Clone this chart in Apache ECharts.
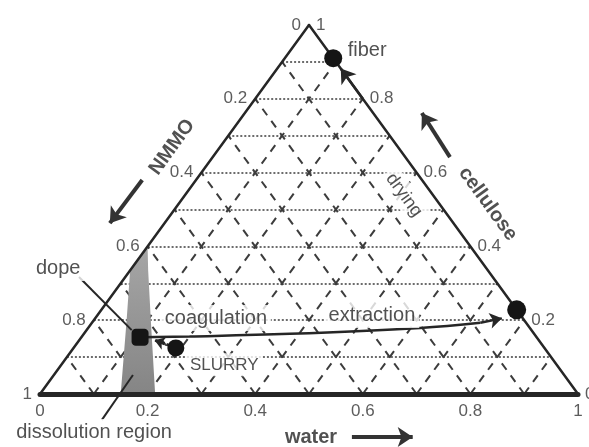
<!DOCTYPE html>
<html><head><meta charset="utf-8">
<script src="https://cdn.jsdelivr.net/npm/echarts@6/dist/echarts.min.js"></script>
<style>html,body{margin:0;padding:0;background:#fff}#c{width:589px;height:447px}</style>
</head><body><div id="c"></div>
<script>
// All positions are ternary pairs [water, cellulose]; NMMO = 1 - water - cellulose
const gridTicks = [0.1, 0.2, 0.3, 0.4, 0.5, 0.6, 0.7, 0.8, 0.9];
const tickValues = [0, 0.2, 0.4, 0.6, 0.8, 1];
const tickText = ['0', '0.2', '0.4', '0.6', '0.8', '1'];

const pointNames = ['fiber', 'extracted', 'dope', 'slurry'];
const pointValues = [[0.09, 0.91], [0.772, 0.228], [0.109, 0.154], [0.19, 0.125]];
const pointSizes = [18, 19, 17, 17];

const coagulationPath = [[0.109, 0.154], [0.2, 0.156], [0.383, 0.163], [0.617, 0.179], [0.722, 0.193]];
const coagulationArrow = [[0.722, 0.193], [0.756, 0.205]];
const dryingArrow = [[0.2, 0.8], [0.118, 0.882]];
const slurryArrow = [[0.19, 0.125], [0.14, 0.146]];
const dissolutionRegion = [[0.0, 0.40], [0.0, 0.335], [0.061, 0.2], [0.15, 0], [0.214, 0], [0.106, 0.2], [0.033, 0.336]];

const textNames = ['fiber', 'dope', 'coagulation', 'extraction', 'drying', 'SLURRY', 'dissolution region'];
const textPos = [[0.143, 0.93], [-0.137, 0.3415], [0.224, 0.206], [0.51, 0.214], [0.407, 0.539], [0.303, 0.079], [0.152, -0.103]];
const textRotate = [0, 0, 0, 0, -54, 0, 0];
const textSize = [20, 20, 20, 20, 18, 17, 20];

const axisNames = ['NMMO', 'cellulose', 'water'];
const axisNamePos = [[-0.089, 0.669], [0.575, 0.515], [0.562, -0.1165]];
const axisNameRotate = [54, -54, 0];
const axisArrows = [[[-0.100, 0.58], [-0.1017, 0.463]], [[0.441, 0.642], [0.329, 0.7615]], [[0.638, -0.1165], [0.751, -0.1165]]];

const leaderLines = [[[-0.086, 0.317], [0.084, 0.173]], [[0.150, -0.070], [0.147, 0.0515]]];

const FONT = '"Liberation Sans", Arial, Helvetica, sans-serif';
const INK = '#262626';
const TEXT = '#262626';
const T = p => [p[0] + p[1] / 2, p[1]];
const seg = (a, b) => ({ coords: [T(a), T(b)] });

function linesSeries(data, style, extra) {
  return Object.assign({
    type: 'lines', coordinateSystem: 'cartesian2d', clip: false, silent: true, animation: false,
    symbol: 'none', lineStyle: Object.assign({ opacity: 1, curveness: 0 }, style), data: data
  }, extra || {});
}

const horiz = gridTicks.map(t => seg([0, t], [1 - t, t]));
const diagW = gridTicks.map(t => seg([t, 0], [t, 1 - t]));
const diagN = gridTicks.map(t => seg([1 - t, 0], [0, 1 - t]));

const corners = [[0, 0], [1, 0], [0, 1]];

function labelPoints(list, pos, dist) {
  return {
    type: 'scatter', clip: false, silent: true, animation: false, symbolSize: 0, z: 8,
    data: list,
    label: { show: true, position: pos, distance: dist, formatter: '{b}', color: '#333', fontSize: 17, fontFamily: FONT }
  };
}
const leftTicks = tickValues.map((v, i) => ({ name: tickText[i], value: T([0, 1 - v]) }));
const rightTicks = tickValues.map((v, i) => ({ name: tickText[i], value: T([1 - v, v]) }));
const bottomTicks = tickValues.map((v, i) => ({ name: tickText[i], value: T([v, 0]) }));

const chart = echarts.init(document.getElementById('c'), null, { renderer: 'canvas' });
chart.setOption({
  animation: false,
  backgroundColor: '#fff',
  grid: { left: 40, right: 11, top: 25, bottom: 53, containLabel: false },
  xAxis: { type: 'value', min: 0, max: 1, show: false },
  yAxis: { type: 'value', min: 0, max: 1, show: false },
  series: [
    linesSeries(horiz, { color: '#3c3c3c', width: 1.5, type: [2, 2] }, { z: 1 }),
    linesSeries(diagW.concat(diagN), { color: '#3c3c3c', width: 2, type: [8, 7] }, { z: 1 }),
    {
      type: 'custom', coordinateSystem: 'cartesian2d', clip: false, silent: true, animation: false, z: 2,
      data: [[0, 0]],
      renderItem: function (params, api) {
        return {
          type: 'polygon',
          shape: { points: dissolutionRegion.map(p => api.coord(T(p))) },
          style: { fill: new echarts.graphic.LinearGradient(0, 0, 0, 1, [{ offset: 0, color: '#a6a6a6' }, { offset: 1, color: '#858585' }]) }
        };
      }
    },
    linesSeries([seg(corners[0], corners[2]), seg(corners[2], corners[1])], { color: INK, width: 2.5, cap: 'round' }, { z: 3 }),
    linesSeries([seg(corners[0], corners[1])], { color: INK, width: 5, cap: 'round' }, { z: 3 }),
    {
      type: 'line', data: coagulationPath.map(T), smooth: 0.4, symbol: 'none', clip: false, silent: true,
      animation: false, z: 4, lineStyle: { color: INK, width: 2.5 }
    },
    linesSeries([seg(coagulationArrow[0], coagulationArrow[1])], { color: INK, width: 2.5 }, { z: 4, symbol: ['none', 'arrow'], symbolSize: 12 }),
    linesSeries([seg(dryingArrow[0], dryingArrow[1])], { color: INK, width: 2.5 }, { z: 4, symbol: ['none', 'arrow'], symbolSize: 14 }),
    linesSeries([seg(slurryArrow[0], slurryArrow[1])], { color: INK, width: 3, type: [4, 2] }, { z: 4, symbol: ['none', 'arrow'], symbolSize: 10 }),
    linesSeries(axisArrows.map(a => seg(a[0], a[1])), { color: '#333', width: 4 }, { z: 4, symbol: ['none', 'arrow'], symbolSize: 15 }),
    linesSeries(leaderLines.map(a => seg(a[0], a[1])), { color: INK, width: 2 }, { z: 4 }),
    {
      type: 'scatter', clip: false, silent: true, animation: false, z: 6,
      data: pointValues.map((p, i) => ({ name: pointNames[i], value: T(p), symbolSize: pointSizes[i], symbol: i === 2 ? 'roundRect' : 'circle' })),
      itemStyle: { color: '#151515', opacity: 1 }
    },
    {
      type: 'scatter', clip: false, silent: true, animation: false, z: 7, symbolSize: 0,
      data: textNames.map((n, i) => ({
        name: n, value: T(textPos[i]),
        label: { rotate: textRotate[i], fontSize: textSize[i] }
      })),
      label: {
        show: true, position: 'inside', formatter: '{b}', color: TEXT, fontFamily: FONT,
        backgroundColor: '#fff', padding: [3, 4]
      }
    },
    {
      type: 'scatter', clip: false, silent: true, animation: false, z: 7, symbolSize: 0,
      data: axisNames.map((n, i) => ({ name: n, value: T(axisNamePos[i]), label: { rotate: axisNameRotate[i] } })),
      label: { show: true, position: 'inside', formatter: '{b}', color: TEXT, fontFamily: FONT, fontWeight: 'bold', fontSize: 20 }
    },
    labelPoints(leftTicks, 'left', 8),
    labelPoints(rightTicks, 'right', 7),
    labelPoints(bottomTicks, 'bottom', 9)
  ]
});
</script></body></html>
